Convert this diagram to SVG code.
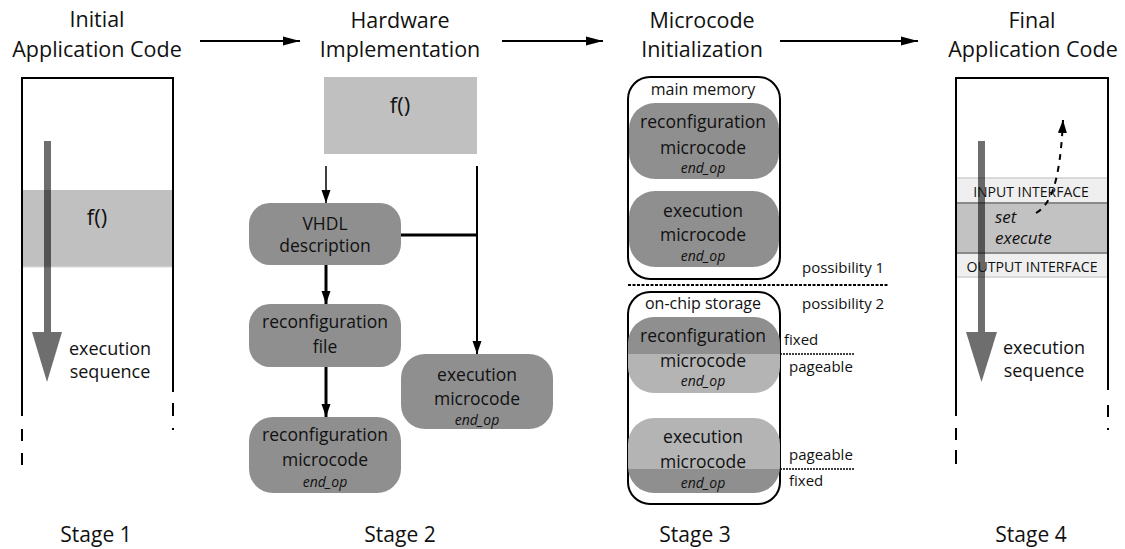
<svg xmlns="http://www.w3.org/2000/svg" width="1125" height="549" viewBox="0 0 1125 549">
<style>
text{font-family:"Open Sans","Liberation Sans",sans-serif;fill:#111}
.title{font-size:21.5px;text-anchor:middle}
.stage{font-size:21px;text-anchor:middle}
.node{font-size:17.5px;text-anchor:middle}
.op{font-size:14px;font-style:italic;text-anchor:middle}
.small{font-size:15px}
.mem{font-size:16px;text-anchor:middle}
.iface{font-size:14px;text-anchor:middle}
.frame{fill:none;stroke:#000;stroke-width:2}
.n2{fill:#8f8f8f}
.dark{fill:#8f8f8f}
.light{fill:#b4b4b4}
.conn{fill:none;stroke:#000}
</style>
<defs>
<marker id="big" markerUnits="userSpaceOnUse" markerWidth="18" markerHeight="10" refX="17" refY="5" orient="auto">
<polygon points="0,0.5 17,5 0,9.5" fill="#000"/>
</marker>
<marker id="sm" markerUnits="userSpaceOnUse" markerWidth="14" markerHeight="10" refX="13" refY="5" orient="auto">
<polygon points="0,0.5 13,5 0,9.5" fill="#000"/>
</marker>
<marker id="dash" markerUnits="userSpaceOnUse" markerWidth="14" markerHeight="10" refX="13" refY="5" orient="auto">
<polygon points="0,0.5 13,5 0,9.5" fill="#000"/>
</marker>
<clipPath id="c1"><rect x="628" y="317" width="152" height="76" rx="26"/></clipPath>
<clipPath id="c2"><rect x="628" y="418" width="152" height="75" rx="26"/></clipPath>
</defs>

<!-- Stage 1 -->
<g id="stage1">
<text class="title" x="97" y="27">Initial</text>
<text class="title" x="97" y="57">Application Code</text>
<rect x="22" y="190" width="151" height="77" fill="#c0c0c0"/>
<line x1="22" y1="267" x2="173" y2="267" stroke="#dcdcdc" stroke-width="1"/>
<text x="97" y="225" style="font-size:22px;text-anchor:middle">f()</text>
<path class="frame" d="M22,416 V78 H173 V392"/>
<path class="frame" d="M22,429 V441 M22,453 V465 M173,403 V416 M173,428 V430"/>
<rect x="44" y="141" width="7" height="192" fill="#000" fill-opacity="0.57"/>
<polygon points="32,332 62,332 47,382" fill="#6e6e6e"/>
<text class="node" x="110" y="355" style="font-size:18px">execution</text>
<text class="node" x="110" y="378" style="font-size:18px">sequence</text>
<text class="stage" x="96" y="542">Stage 1</text>
</g>

<!-- Stage 2 -->
<g id="stage2">
<text class="title" x="400" y="28">Hardware</text>
<text class="title" x="400" y="57">Implementation</text>
<g id="f-box">
<rect x="324" y="77" width="153" height="77" fill="#c0c0c0"/>
<text x="400" y="113" style="font-size:22px;text-anchor:middle">f()</text>
</g>
<g id="vhdl">
<rect class="n2" x="249" y="203" width="152" height="62" rx="21"/>
<text class="node" x="325" y="230">VHDL</text>
<text class="node" x="325" y="252">description</text>
</g>
<g id="reconf-file">
<rect class="n2" x="249" y="304" width="152" height="63" rx="21"/>
<text class="node" x="325" y="328">reconfiguration</text>
<text class="node" x="325" y="353">file</text>
</g>
<g id="reconf-mc">
<rect class="n2" x="249" y="417" width="152" height="76" rx="24"/>
<text class="node" x="325" y="441">reconfiguration</text>
<text class="node" x="325" y="466">microcode</text>
<text class="op" x="325" y="487">end_op</text>
</g>
<g id="exec-mc">
<rect class="n2" x="401" y="354" width="152" height="75" rx="24"/>
<text class="node" x="477" y="381">execution</text>
<text class="node" x="477" y="405">microcode</text>
<text class="op" x="477" y="425">end_op</text>
</g>
<text class="stage" x="400" y="542">Stage 2</text>
</g>

<!-- Stage 3 -->
<g id="stage3">
<text class="title" x="702" y="28">Microcode</text>
<text class="title" x="702" y="57">Initialization</text>
<g id="main-memory">
<rect class="frame" x="628" y="77" width="152" height="202" rx="22"/>
<text class="mem" x="703" y="95">main memory</text>
<rect class="dark" x="629" y="103" width="150" height="76" rx="26"/>
<text class="node" x="703" y="128">reconfiguration</text>
<text class="node" x="703" y="154">microcode</text>
<text class="op" x="703" y="173">end_op</text>
<rect class="dark" x="629" y="191" width="150" height="76" rx="26"/>
<text class="node" x="703" y="217">execution</text>
<text class="node" x="703" y="241">microcode</text>
<text class="op" x="703" y="261">end_op</text>
</g>
<text class="small" x="802" y="273">possibility 1</text>
<line x1="628" y1="285" x2="888" y2="285" stroke="#000" stroke-width="2" stroke-dasharray="3,1.5"/>
<text class="small" x="802" y="309">possibility 2</text>
<g id="on-chip">
<rect class="frame" x="628" y="292" width="152" height="212" rx="22"/>
<text class="mem" x="703" y="309">on-chip storage</text>
<g clip-path="url(#c1)">
<rect class="dark" x="628" y="317" width="152" height="37"/>
<rect class="light" x="628" y="354" width="152" height="39"/>
</g>
<text class="node" x="703" y="342">reconfiguration</text>
<text class="node" x="703" y="367">microcode</text>
<text class="op" x="703" y="386">end_op</text>
<g clip-path="url(#c2)">
<rect class="light" x="628" y="418" width="152" height="51"/>
<rect class="dark" x="628" y="469" width="152" height="24"/>
</g>
<text class="node" x="703" y="443">execution</text>
<text class="node" x="703" y="468">microcode</text>
<text class="op" x="703" y="488">end_op</text>
</g>
<text class="small" x="784" y="345">fixed</text>
<line x1="780" y1="354" x2="854" y2="354" stroke="#000" stroke-width="1.5" stroke-dasharray="2,1"/>
<text class="small" x="789" y="372">pageable</text>
<text class="small" x="789" y="460">pageable</text>
<line x1="780" y1="469" x2="854" y2="469" stroke="#000" stroke-width="1.5" stroke-dasharray="2,1"/>
<text class="small" x="789" y="486">fixed</text>
<text class="stage" x="695" y="542">Stage 3</text>
</g>

<!-- Stage 4 -->
<g id="stage4">
<text class="title" x="1032" y="28">Final</text>
<text class="title" x="1033" y="57">Application Code</text>
<rect x="956" y="178" width="152" height="25" fill="#efefef"/>
<rect x="956" y="203" width="152" height="50" fill="#c2c2c2"/>
<rect x="956" y="253" width="152" height="24" fill="#efefef"/>
<line x1="956" y1="178" x2="1108" y2="178" stroke="#cfcfcf" stroke-width="1.5"/>
<line x1="956" y1="203" x2="1108" y2="203" stroke="#8a8a8a" stroke-width="2"/>
<line x1="956" y1="253" x2="1108" y2="253" stroke="#8a8a8a" stroke-width="2"/>
<line x1="956" y1="277" x2="1108" y2="277" stroke="#cfcfcf" stroke-width="1.5"/>
<path class="frame" d="M956,416 V78 H1108 V390"/>
<path class="frame" d="M956,428 V440 M956,450 V464 M1108,405 V417 M1108,428 V430"/>
<rect x="978" y="141" width="7" height="192" fill="#000" fill-opacity="0.57"/>
<polygon points="966,332 997,332 981.5,382" fill="#6e6e6e"/>
<text class="iface" x="1031" y="197">INPUT INTERFACE</text>
<text x="995" y="223" style="font-size:17px;font-style:italic">set</text>
<text x="995" y="244" style="font-size:17px;font-style:italic">execute</text>
<text class="iface" x="1032" y="272" textLength="131" lengthAdjust="spacingAndGlyphs">OUTPUT INTERFACE</text>
<text class="node" x="1044" y="354" style="font-size:18px">execution</text>
<text class="node" x="1044" y="377" style="font-size:18px">sequence</text>
<text class="stage" x="1031" y="542">Stage 4</text>
</g>

<!-- Connectors -->
<g id="connectors">
<line class="conn" x1="200" y1="41" x2="300" y2="41" stroke-width="2" marker-end="url(#big)"/>
<line class="conn" x1="502" y1="41" x2="603" y2="41" stroke-width="2" marker-end="url(#big)"/>
<line class="conn" x1="780" y1="41" x2="918" y2="41" stroke-width="2" marker-end="url(#big)"/>
<line class="conn" x1="326" y1="166" x2="326" y2="203" stroke-width="1.5" marker-end="url(#sm)"/>
<line class="conn" x1="326" y1="265" x2="326" y2="304" stroke-width="3" marker-end="url(#sm)"/>
<line class="conn" x1="326" y1="367" x2="326" y2="417" stroke-width="3" marker-end="url(#sm)"/>
<line class="conn" x1="477" y1="166" x2="477" y2="354" stroke-width="2" marker-end="url(#sm)"/>
<line class="conn" x1="401" y1="235" x2="477" y2="235" stroke-width="3"/>
<path class="conn" d="M1036,213 C1050,205 1060,185 1063,120" stroke-width="2" stroke-dasharray="6,6" marker-end="url(#dash)"/>
</g>
</svg>
